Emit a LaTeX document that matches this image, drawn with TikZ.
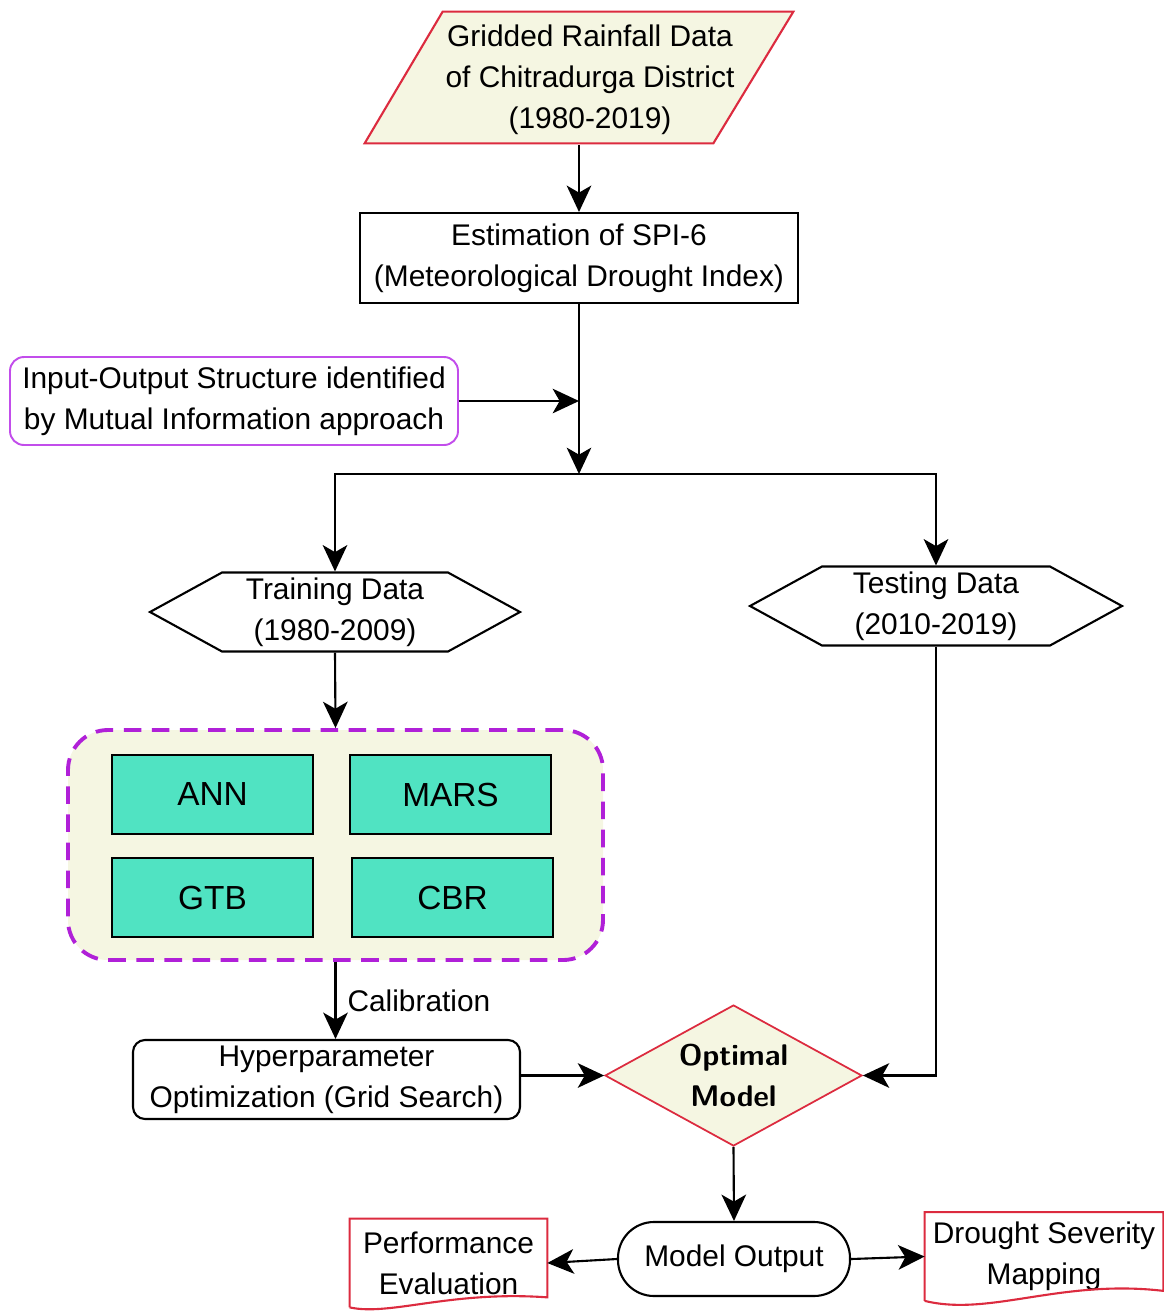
\documentclass[tikz,border=0pt]{standalone}
\usepackage{fontspec}
\setmainfont{Liberation Sans}
\usetikzlibrary{shapes.geometric,shapes.symbols,arrows.meta,calc}

\pgfdeclarelayer{back}
\pgfsetlayers{back,main}

\definecolor{cream}{HTML}{F5F6E2}
\definecolor{edgered}{HTML}{DC2B3F}
\definecolor{miline}{HTML}{C24DEB}
\definecolor{groupline}{HTML}{B020D8}
\definecolor{modelfill}{HTML}{50E3C2}

\newcommand{\pu}{0.02cm}

\tikzset{
  txt/.style={align=center, inner sep=0pt, font=\fontsize{17}{23.3}\selectfont},
  arr/.style={-{Stealth[length=15pt,width=14pt,inset=4pt]}, line width=1.2pt},
  inbox/.style={txt, minimum width=428*\pu, minimum height=131*\pu},
  stepbox/.style={txt, draw, line width=1.2pt, minimum width=438*\pu, minimum height=90*\pu},
  mibox/.style={txt, draw=miline, line width=1.1pt, rounded corners=0.28cm,
    minimum width=448*\pu, minimum height=88*\pu},
  datahex/.style={txt, draw, line width=1.2pt, shape=signal, signal to=west and east,
    signal pointer angle=57.5, minimum height=79*\pu},
  groupbox/.style={draw=groupline, fill=cream, line width=2.2pt, dash pattern=on 10pt off 6pt,
    rounded corners=0.8cm, minimum width=535*\pu, minimum height=230*\pu},
  model/.style={txt, font=\fontsize{19}{23}\selectfont, draw, fill=modelfill, line width=1.2pt,
    minimum width=201*\pu, minimum height=79*\pu},
  tunebox/.style={txt, draw, line width=1.2pt, rounded corners=0.24cm,
    minimum width=387*\pu, minimum height=79*\pu},
  choice/.style={txt, font=\fontsize{17}{23.3}\sffamily\bfseries\selectfont, shape=diamond,
    aspect=1.82, draw=edgered, fill=cream, line width=1pt, minimum width=257*\pu, minimum height=141*\pu},
  endbox/.style={txt, draw, line width=1.2pt, rounded corners=0.72cm,
    minimum width=232*\pu, minimum height=74*\pu},
  report/.style={txt, minimum height=88*\pu},
  docline/.style={draw=edgered, line width=1.2pt},
}

\begin{document}
\begin{tikzpicture}[x=\pu, y=-\pu]
\useasboundingbox (0,0) rectangle (1164,1313);

\node[inbox] (data) at (590,79.5) {Gridded Rainfall Data\\of Chitradurga District\\(1980-2019)};
\node[stepbox] (spi) at (579,258) {Estimation of SPI-6\\(Meteorological Drought Index)};
\node[mibox] (mi) at (234,401) {Input-Output Structure identified\\by Mutual Information approach};
\coordinate (jn) at (579,474);
\node[datahex, minimum width=370*\pu] (train) at (335,612) {Training Data\\(1980-2009)};
\node[datahex, minimum width=372*\pu] (test) at (936,606) {Testing Data\\(2010-2019)};

% model group
\node[groupbox] (group) at (335.5,845) {};
\node[model] (ann) at (212.5,794.5) {ANN};
\node[model] (mars) at (450.5,794.5) {MARS};
\node[model] (gtb) at (212.5,897.5) {GTB};
\node[model] (cbr) at (452.5,897.5) {CBR};

\node[tunebox] (hyper) at (326.5,1079.5) {Hyperparameter\\Optimization (Grid Search)};
\node[choice] (opt) at (733.5,1075.5) {Optimal\\Model};
\node[endbox] (out) at (734,1259) {Model Output};
\node[report, minimum width=197*\pu] (perf) at (448.5,1263) {Performance\\Evaluation};
\node[report, minimum width=238*\pu] (map) at (1044,1256.5) {Drought Severity\\Mapping};

% input parallelogram
\begin{pgfonlayer}{back}
\draw[docline, fill=cream] ($(data.north west)+(67,-2)$) -- ($(data.north east)+(-11,-2)$)
  -- ($(data.south east)+(-91,-2)$) -- ($(data.south west)+(-11,-2)$) -- cycle;
\end{pgfonlayer}

% document shapes
\draw[docline] (perf.south west) -- (perf.north west) -- (perf.north east) -- ($(perf.south east)+(0,-10)$)
  .. controls +(-97,-7) and ($(perf.south west)+(40,9)$) .. (perf.south west);
\draw[docline] (map.south west) -- (map.north west) -- (map.north east) -- ($(map.south east)+(0,-10)$)
  .. controls +(-103,-12) and ($(map.south west)+(65,16)$) .. (map.south west);

\draw[arr] (spi.north |- data.south) -- (spi.north);
\draw[arr] (spi.south) -- (jn);
\draw[arr] (mi.east) -- (mi.east -| spi.south);
\draw[arr] (jn) -| (train.north);
\draw[arr] (jn) -| (test.north);
\draw[arr] (train.south) -- (group.north);
\draw[arr] (group.south) -- node[txt, right=0.22cm] (cal) {Calibration} (group.south |- hyper.north);
\draw[arr] (hyper.east |- opt.west) -- (opt.west);
\draw[arr] (test.south) |- (opt.east);
\draw[arr] (opt.south) -- (out.north);
\draw[arr] (out.west) -- (perf.east);
\draw[arr] (out.east) -- (map.west);
\end{tikzpicture}
\end{document}
